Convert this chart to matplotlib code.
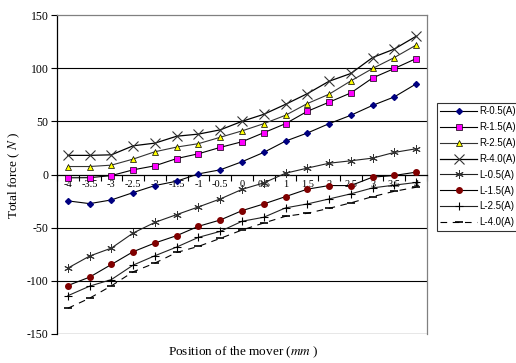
import matplotlib
matplotlib.use("Agg")
import matplotlib.pyplot as plt
import numpy as np

positions = ["-4", "-3.5", "-3", "-2.5", "-2", "-1.5", "-1", "-0.5", "0",
             "0.5", "1", "1.5", "2", "2.5", "3", "3.5", "4"]

r_05 = [-24.8, -27.4, -23.9, -17.0, -10.4, -6.3, 0.6, 4.4, 12.0,
        20.8, 31.4, 39.0, 47.8, 55.7, 65.0, 73.0, 85.2]
r_15 = [-3.1, -3.0, -1.0, 4.4, 8.2, 15.0, 19.5, 25.5, 30.8,
        39.3, 47.8, 59.4, 68.0, 76.7, 90.8, 99.7, 109.0]
r_25 = [7.5, 7.5, 8.8, 14.5, 21.4, 25.8, 29.0, 35.0, 41.0,
        47.8, 55.7, 66.7, 75.5, 88.0, 99.7, 110.0, 121.7]
r_40 = [18.0, 18.0, 18.5, 27.0, 29.5, 36.0, 38.0, 42.0, 50.0,
        56.6, 66.0, 76.0, 87.7, 95.0, 110.0, 118.0, 130.0]
l_05 = [-88.0, -76.7, -69.2, -55.0, -45.0, -37.7, -30.5, -23.0, -14.0,
        -7.9, 1.2, 6.0, 10.6, 12.9, 15.4, 20.8, 24.2]
l_15 = [-104.4, -96.5, -84.6, -72.6, -64.4, -57.5, -48.7, -42.8, -34.0,
        -27.7, -20.8, -13.8, -10.4, -10.4, -2.5, -0.9, 2.2]
l_25 = [-114.0, -105.0, -98.8, -85.2, -76.4, -68.2, -59.1, -53.5, -44.0,
        -40.2, -31.4, -27.7, -23.0, -18.2, -12.6, -10.0, -7.5]
l_40 = [-125.8, -116.3, -104.7, -91.5, -83.3, -73.3, -67.6, -60.1, -52.2,
        -45.6, -39.3, -36.5, -31.8, -26.7, -20.8, -15.8, -12.0]

series_labels = ["R-0.5(A)", "R-1.5(A)", "R-2.5(A)", "R-4.0(A)",
                 "L-0.5(A)", "L-1.5(A)", "L-2.5(A)", "L-4.0(A)"]
y_ticks = [-150, -100, -50, 0, 50, 100, 150]

plt.rcParams['mathtext.fontset'] = 'stix'

W, H = 516, 363
fig = plt.figure(figsize=(W / 100, H / 100), dpi=100)
ax = fig.add_axes([57 / W, 1 - 334 / H, (427 - 57) / W, (334 - 15) / H])

x = np.arange(len(positions))

styles = [
    dict(marker='D', ms=3.0, mfc='#000080', mec='#000080', color='black', lw=0.8, ls='-'),
    dict(marker='s', ms=4.5, mfc='#FF00FF', mec='black', mew=0.5, color='black', lw=0.8, ls='-'),
    dict(marker='^', ms=5, mfc='#FFFF00', mec='black', mew=0.5, color='#333333', lw=0.8, ls='-'),
    dict(marker='x', ms=7, mfc='none', mec='#333333', mew=0.8, color='black', lw=0.9, ls='-'),
    dict(marker=(6, 2, 0), ms=6, mec='#333333', mew=0.7, color='#222222', lw=0.8, ls='-'),
    dict(marker='o', ms=4, mfc='#800000', mec='#800000', color='black', lw=0.8, ls='-'),
    dict(marker='+', ms=6, mec='black', mew=0.8, color='#222222', lw=0.8, ls='-'),
    dict(marker='_', ms=6, mec='black', mew=1.2, color='black', lw=0.8, ls=(0, (6, 5))),
]
data = [r_05, r_15, r_25, r_40, l_05, l_15, l_25, l_40]

for d, lab, st in zip(data, series_labels, styles):
    ax.plot(x, d, label=lab, clip_on=False, zorder=3, **st)

ax.set_xlim(-0.5, len(positions) - 0.5)
ax.set_ylim(-150, 150)

# gridlines
for v in [-100, -50, 50, 100]:
    ax.axhline(v, color='black', lw=0.8, zorder=1)

# spines
ax.spines['left'].set_color('black')
ax.spines['left'].set_linewidth(0.9)
ax.spines['bottom'].set_position(('data', 0))
ax.spines['bottom'].set_color('black')
ax.spines['bottom'].set_linewidth(0.9)
for s in ['top', 'right']:
    ax.spines[s].set_color('#808080')
    ax.spines[s].set_linewidth(0.9)
ax.axhline(-150, color='#404040', lw=0.9, zorder=1)

# y ticks
ax.set_yticks(y_ticks)
ax.set_yticklabels([str(v) for v in y_ticks], fontsize=8.5, family='Liberation Serif')
ax.tick_params(axis='y', direction='out', length=4, width=0.8, pad=2)

# x ticks: marks at category boundaries, labels at centers
ax.set_xticks(np.arange(-0.5, len(positions), 1.0))
ax.set_xticklabels([])
ax.tick_params(axis='x', which='major', direction='out', length=4, width=0.8)
ax.set_xticks(x, minor=True)
ax.set_xticklabels(positions, minor=True, fontsize=7.5, family='Liberation Serif')
ax.tick_params(axis='x', which='minor', length=0, pad=4)

fig.text(14 / W, 1 - 175 / H, 'Total force ( $N$ )', rotation=90, ha='center', va='center',
         fontsize=9.5, family='Liberation Serif')
fig.text(243 / W, 1 - 352 / H, 'Position of the mover ($mm$ )', ha='center', va='center',
         fontsize=9.5, family='Liberation Serif')

leg = fig.legend(loc='upper left', bbox_to_anchor=(437 / W, 1 - 103 / H),
                 prop={'family': 'Liberation Sans', 'size': 7},
                 handlelength=3.8, handletextpad=0.2, labelspacing=0.6,
                 borderpad=0.35, borderaxespad=0, frameon=True, fancybox=False)
leg.get_frame().set_edgecolor('black')
leg.get_frame().set_linewidth(0.8)

fig.savefig('out.png', dpi=100)
